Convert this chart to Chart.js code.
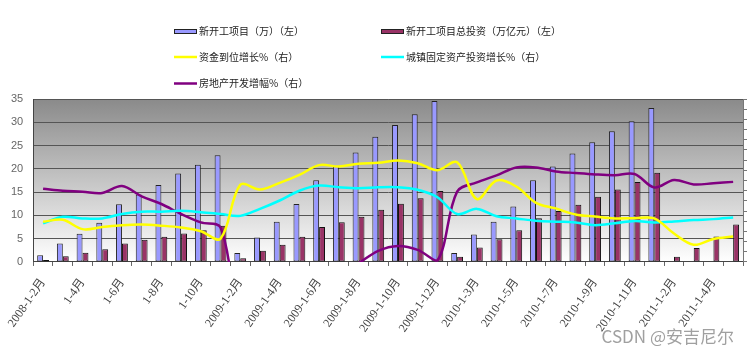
<!DOCTYPE html>
<html><head><meta charset="utf-8">
<script src="https://cdn.jsdelivr.net/npm/chart.js@4.4.1/dist/chart.umd.min.js"></script>
<style>html,body{margin:0;padding:0;background:#fff}#wrap{width:750px;height:355px;position:relative}</style>
</head><body><div id="wrap"><canvas id="c" width="750" height="355"></canvas></div>
<script>
const categories = [
  "2008-1-2月","1-3月","1-4月","1-5月","1-6月","1-7月","1-8月","1-9月","1-10月","1-11月",
  "2009-1-2月","2009-1-3月","2009-1-4月","2009-1-5月","2009-1-6月","2009-1-7月","2009-1-8月","2009-1-9月","2009-1-10月","2009-1-11月","2009-1-12月",
  "2010-1-2月","2010-1-3月","2010-1-4月","2010-1-5月","2010-1-6月","2010-1-7月","2010-1-8月","2010-1-9月","2010-1-10月","2010-1-11月","2010-1-12月",
  "2011-1-2月","2011-1-3月","2011-1-4月","2011-1-5月"
];
const seriesNames = ["新开工项目（万）（左）","新开工项目总投资（万亿元）（左）","资金到位增长%（右）","城镇固定资产投资增长%（右）","房地产开发增幅%（右）"];
const newProjects = [1.45,3.95,6.05,8.4,12.4,14.5,16.55,19.0,20.9,22.9,
  1.9,5.25,8.65,12.45,17.55,20.6,23.5,26.9,29.4,31.7,34.55,
  1.9,5.9,8.65,11.9,17.55,20.5,23.3,25.7,28.1,30.2,33.05,
  null,null,null,null];
const newInvestment = [0.4,1.2,2.0,2.75,3.95,4.75,5.4,6.1,6.8,7.8,
  0.8,2.4,3.7,5.4,7.5,8.55,9.7,11.2,12.5,13.7,15.25,
  1.1,3.1,4.9,6.8,9.4,10.95,12.3,14.0,15.55,17.2,19.15,
  1.1,3.0,5.45,8.05];
const fundGrowth = [8.65,9.05,7.05,7.5,7.9,8.05,7.8,7.4,6.6,5.0,
  16.55,15.55,17.0,18.7,20.8,20.5,21.1,21.3,21.8,21.2,19.7,
  21.4,13.5,17.5,16.2,12.7,11.5,10.2,9.75,9.35,9.4,9.35,
  6.1,3.7,4.95,5.45];
const urbanFAIGrowth = [8.3,9.7,9.35,9.35,10.3,10.8,10.8,11.0,10.7,10.3,
  9.9,11.4,13.2,15.3,16.4,16.05,15.85,16.05,16.05,15.5,13.9,
  10.3,11.4,9.8,9.35,8.85,8.65,8.5,7.9,8.3,8.8,8.5,
  8.7,9.0,9.2,9.55];
const realEstateGrowth = [15.7,15.3,15.1,14.8,16.3,14.1,12.45,10.3,8.5,7.4,
  -12,-14,-12,-9,-6,-3,-0.3,2.4,3.45,2.6,0.3,
  15.1,17.1,18.6,20.3,20.3,19.45,19.1,18.8,18.65,18.9,16.0,
  17.6,16.65,16.9,17.2];
const leftTicks = [0,5,10,15,20,25,30,35];

const colors = ["#9999ff","#993366","#ffff00","#00ffff","#800080"];

const noAutoPad = {
  id:'noAutoPad',
  beforeLayout(chart){
    const x = chart.scales && chart.scales.x;
    if (x) x.getPadding = () => ({left:0, top:0, right:0, bottom:0});
  }
};

const bgPlugin = {
  id:'bg',
  beforeDraw(chart){
    const {ctx, chartArea:a} = chart;
    const g = ctx.createLinearGradient(0,a.top,0,a.bottom);
    g.addColorStop(0,'#8a8a8a');
    g.addColorStop(1,'#ffffff');
    ctx.save();
    ctx.fillStyle = g;
    ctx.fillRect(a.left,a.top,a.right-a.left,a.bottom-a.top);
    ctx.restore();
  }
};

const legendPlugin = {
  id:'customLegend',
  afterDraw(chart){
    const ctx = chart.ctx;
    const items = [
      {x:174, y:31.5, type:'box'},
      {x:381, y:31.5, type:'box'},
      {x:174, y:57, type:'line'},
      {x:381, y:57, type:'line'},
      {x:174, y:83.5, type:'line'}
    ];
    ctx.save();
    ctx.font = "10px 'Noto Sans CJK SC', sans-serif";
    ctx.textBaseline = 'middle';
    ctx.textAlign = 'left';
    items.forEach((it,i)=>{
      if (it.type==='box'){
        ctx.fillStyle = colors[i];
        ctx.fillRect(it.x, it.y-2.5, 23, 5);
        ctx.strokeStyle = '#222';
        ctx.lineWidth = 1;
        ctx.strokeRect(it.x+0.5, it.y-2.5+0.5, 22, 4);
      } else {
        ctx.strokeStyle = colors[i];
        ctx.lineWidth = 2.5;
        ctx.beginPath();
        ctx.moveTo(it.x, it.y);
        ctx.lineTo(it.x+23, it.y);
        ctx.stroke();
      }
      ctx.fillStyle = '#222';
      ctx.fillText(chart.data.datasets[i].label, it.x+25, it.y);
    });
    ctx.font = "17px 'Noto Sans CJK SC', sans-serif";
    ctx.fillStyle = '#a0a0a0';
    ctx.textAlign = 'right';
    ctx.fillText('CSDN @安吉尼尔', 734, 337);
    ctx.restore();
  }
};

const lineDs = (i, data) => ({
  type:'line', label:seriesNames[i], data, yAxisID:'y1',
  borderColor:colors[i], backgroundColor:colors[i], borderWidth:2.5,
  pointRadius:0, tension:0.35, fill:false, order:1
});

new Chart(document.getElementById('c'), {
  type:'bar',
  data:{
    labels:categories,
    datasets:[
      {label:seriesNames[0], data:newProjects, backgroundColor:colors[0], borderColor:'#222', borderWidth:1, borderSkipped:false, yAxisID:'y', order:2, categoryPercentage:0.6, barPercentage:1.0},
      {label:seriesNames[1], data:newInvestment, backgroundColor:colors[1], borderColor:'#111', borderWidth:1, borderSkipped:false, yAxisID:'y', order:2, categoryPercentage:0.6, barPercentage:1.0},
      lineDs(2, fundGrowth),
      lineDs(3, urbanFAIGrowth),
      lineDs(4, realEstateGrowth)
    ]
  },
  options:{
    responsive:false, animation:false, events:[],
    layout:{padding:{left:1, right:3, top:99, bottom:10}},
    plugins:{legend:{display:false}, tooltip:{enabled:false}},
    scales:{
      x:{
        offset:true,
        grid:{offset:true, drawOnChartArea:false, drawTicks:true, tickLength:4, color:'#666'},
        border:{color:'#444'},
        ticks:{autoSkip:false, minRotation:55, maxRotation:55, padding:10, color:'#444',
          font:{family:"'Liberation Serif','Noto Sans CJK SC',serif", size:12},
          callback:(v,i)=> i%2===0 ? categories[i] : ''}
      },
      y:{
        position:'left', min:leftTicks[0], max:leftTicks[leftTicks.length-1],
        afterBuildTicks:(s)=>{ s.ticks = leftTicks.map(v=>({value:v})); },
        grid:{color:'#555', drawTicks:false},
        border:{color:'#444'},
        ticks:{color:'#666', padding:10, font:{family:"'Liberation Sans',sans-serif", size:11}}
      },
      y1:{
        position:'right', min:0, max:35,
        ticks:{display:false, stepSize:35/16},
        grid:{drawOnChartArea:false, drawTicks:true, tickLength:4, color:'#777'},
        border:{color:'#777'}
      }
    }
  },
  plugins:[noAutoPad, bgPlugin, legendPlugin]
});
</script>
</body></html>
